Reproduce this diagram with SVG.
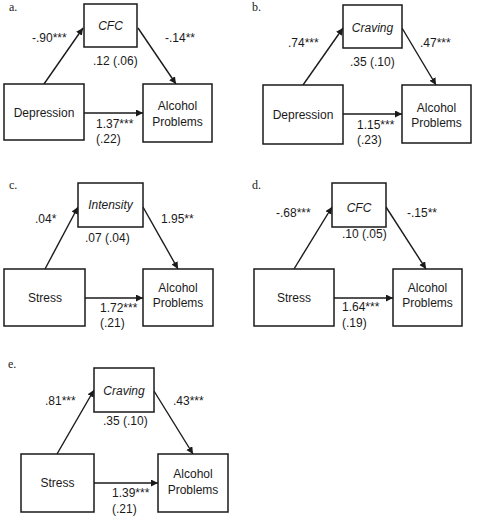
<svg xmlns="http://www.w3.org/2000/svg" width="480" height="516" viewBox="0 0 480 516">
<style>
.box{fill:#fff;stroke:#1a1a1a;stroke-width:1.5}
.t{font-family:"Liberation Sans",Arial,sans-serif;font-size:12px;fill:#1a1a1a}
.c{text-anchor:middle}
.i{font-style:italic}
.lab{font-family:"Liberation Serif","Times New Roman",serif;font-size:12px;fill:#1a1a1a}
.arr{stroke:#1a1a1a;stroke-width:1.4;fill:none;marker-end:url(#ah)}
</style>
<defs>
<marker id="ah" markerUnits="userSpaceOnUse" markerWidth="8" markerHeight="8" refX="7" refY="3.5" orient="auto">
<path d="M0,0 L7,3.5 L0,7 Z" fill="#1a1a1a"/>
</marker>
</defs>
<rect width="480" height="516" fill="#fff"/>

<g id="labels">
<text class="lab" x="9" y="11">a.</text>
<text class="lab" x="252" y="11">b.</text>
<text class="lab" x="9" y="189">c.</text>
<text class="lab" x="252" y="189">d.</text>
<text class="lab" x="8" y="368">e.</text>
</g>

<g id="connectors">
<line class="arr" x1="44" y1="84" x2="83" y2="28"/>
<line class="arr" x1="138" y1="28" x2="176" y2="84"/>
<line class="arr" x1="84" y1="113" x2="143" y2="113"/>

<line class="arr" x1="303" y1="85" x2="343" y2="28"/>
<line class="arr" x1="402" y1="28" x2="436" y2="85"/>
<line class="arr" x1="343" y1="114" x2="402" y2="114"/>

<line class="arr" x1="45" y1="269" x2="78" y2="207"/>
<line class="arr" x1="143" y1="207" x2="178" y2="269"/>
<line class="arr" x1="85" y1="298" x2="143" y2="298"/>

<line class="arr" x1="294" y1="269" x2="332" y2="207"/>
<line class="arr" x1="386" y1="207" x2="426" y2="269"/>
<line class="arr" x1="334" y1="298" x2="393" y2="298"/>

<line class="arr" x1="57" y1="454" x2="94" y2="390"/>
<line class="arr" x1="154" y1="391" x2="193" y2="454"/>
<line class="arr" x1="94" y1="483" x2="158" y2="483"/>
</g>

<g id="a-cfc"><rect class="box" x="84" y="4" width="53" height="43"/><text class="t c i" x="110.5" y="30">CFC</text></g>
<g id="a-depression"><rect class="box" x="4" y="84" width="80" height="56"/><text class="t c" x="44" y="117">Depression</text></g>
<g id="a-alcohol"><rect class="box" x="143" y="84" width="69" height="58"/><text class="t c" x="177.5" y="110">Alcohol</text><text class="t c" x="177.5" y="126">Problems</text></g>
<g id="a-coef">
<text class="t" x="32" y="42">-.90***</text>
<text class="t" x="165" y="42">-.14**</text>
<text class="t" x="93" y="65">.12 (.06)</text>
<text class="t" x="96" y="128">1.37***</text>
<text class="t" x="96" y="143">(.22)</text>
</g>

<g id="b-craving"><rect class="box" x="343" y="5" width="59" height="43"/><text class="t c i" x="372.5" y="32">Craving</text></g>
<g id="b-depression"><rect class="box" x="263" y="85" width="80" height="59"/><text class="t c" x="303" y="119">Depression</text></g>
<g id="b-alcohol"><rect class="box" x="402" y="85" width="69" height="58"/><text class="t c" x="436.5" y="112">Alcohol</text><text class="t c" x="436.5" y="127">Problems</text></g>
<g id="b-coef">
<text class="t" x="288" y="47">.74***</text>
<text class="t" x="420" y="47">.47***</text>
<text class="t" x="350" y="66">.35 (.10)</text>
<text class="t" x="357" y="129">1.15***</text>
<text class="t" x="357" y="144">(.23)</text>
</g>

<g id="c-intensity"><rect class="box" x="78" y="183" width="65" height="44"/><text class="t c i" x="110.5" y="209">Intensity</text></g>
<g id="c-stress"><rect class="box" x="4" y="269" width="81" height="57"/><text class="t c" x="45" y="302">Stress</text></g>
<g id="c-alcohol"><rect class="box" x="143" y="269" width="70" height="57"/><text class="t c" x="178" y="292">Alcohol</text><text class="t c" x="178" y="307">Problems</text></g>
<g id="c-coef">
<text class="t" x="35" y="223">.04*</text>
<text class="t" x="161" y="223">1.95**</text>
<text class="t" x="85" y="242">.07 (.04)</text>
<text class="t" x="100" y="312">1.72***</text>
<text class="t" x="100" y="327">(.21)</text>
</g>

<g id="d-cfc"><rect class="box" x="332" y="183" width="54" height="44"/><text class="t c i" x="359" y="212">CFC</text></g>
<g id="d-stress"><rect class="box" x="254" y="269" width="80" height="57"/><text class="t c" x="294" y="302">Stress</text></g>
<g id="d-alcohol"><rect class="box" x="393" y="269" width="69" height="57"/><text class="t c" x="427.5" y="292">Alcohol</text><text class="t c" x="427.5" y="307">Problems</text></g>
<g id="d-coef">
<text class="t" x="276" y="217">-.68***</text>
<text class="t" x="407" y="217">-.15**</text>
<text class="t" x="342" y="238">.10 (.05)</text>
<text class="t" x="342" y="311">1.64***</text>
<text class="t" x="342" y="327">(.19)</text>
</g>

<g id="e-craving"><rect class="box" x="94" y="368" width="60" height="44"/><text class="t c i" x="124" y="395">Craving</text></g>
<g id="e-stress"><rect class="box" x="21" y="454" width="73" height="58"/><text class="t c" x="57.5" y="487">Stress</text></g>
<g id="e-alcohol"><rect class="box" x="158" y="454" width="70" height="58"/><text class="t c" x="193" y="478">Alcohol</text><text class="t c" x="193" y="494">Problems</text></g>
<g id="e-coef">
<text class="t" x="45" y="405">.81***</text>
<text class="t" x="173" y="405">.43***</text>
<text class="t" x="103" y="425">.35 (.10)</text>
<text class="t" x="112" y="497">1.39***</text>
<text class="t" x="112" y="513">(.21)</text>
</g>
</svg>
